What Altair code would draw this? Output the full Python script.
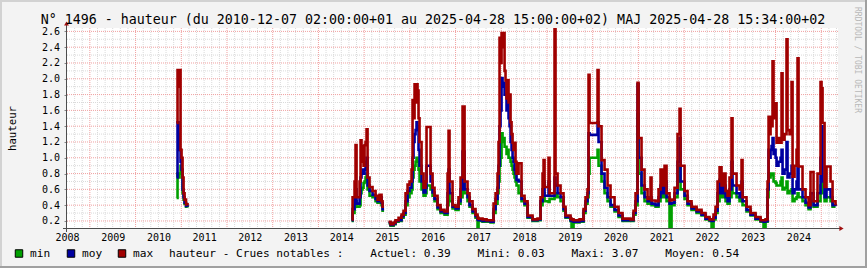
import altair as alt
import pandas as pd

# ---------------- data (decimal years; None marks a gap in the record) ----------------
years = [
    2010.897, 2010.918, 2010.940, 2010.962, 2010.984, 2011.006, 2011.028, 2011.050, 2011.072, 2011.104, 2011.137,
    None,
    2014.725, 2014.747, 2014.790, 2014.812, 2014.834, 2014.900,
    2014.922, 2014.943, 2014.965, 2014.987, 2015.009, 2015.031, 2015.053, 2015.075,
    2015.118, 2015.184, 2015.250, 2015.293, 2015.337, 2015.381, 2015.403, 2015.436,
    None,
    2015.534, 2015.578, 2015.643, 2015.687, 2015.753, 2015.818, 2015.862, 2015.906, 2015.950, 2015.993,
    2016.037, 2016.059, 2016.081, 2016.103, 2016.125, 2016.146, 2016.168, 2016.190, 2016.212,
    2016.256, 2016.300, 2016.343, 2016.365, 2016.453, 2016.497, 2016.540, 2016.606, 2016.672, 2016.759,
    2016.825, 2016.847, 2016.868, 2016.934, 2017.000, 2017.065, 2017.109, 2017.153, 2017.197, 2017.262,
    2017.306, 2017.372, 2017.437, 2017.481, 2017.503, 2017.590, 2017.678, 2017.765, 2017.831, 2017.875,
    2017.918, 2017.940, 2017.962, 2017.984, 2018.006, 2018.028, 2018.050, 2018.072, 2018.093, 2018.115, 2018.137,
    2018.159, 2018.181, 2018.203, 2018.225, 2018.247, 2018.268, 2018.290, 2018.312, 2018.334, 2018.378,
    2018.443, 2018.509, 2018.575, 2018.684, 2018.793, 2018.859, 2018.903, 2018.925, 2018.947, 2019.034,
    2019.056, 2019.165, 2019.187, 2019.231, 2019.297, 2019.362, 2019.406, 2019.515, 2019.537, 2019.581,
    2019.712, 2019.800, 2019.843, 2019.887, 2019.909, 2019.931, 2020.106, 2020.128, 2020.193, 2020.259,
    2020.325, 2020.390, 2020.478, 2020.565, 2020.653, 2020.828, 2020.893, 2020.937, 2020.981, 2021.003,
    2021.068, 2021.134, 2021.200, 2021.265, 2021.287, 2021.375, 2021.440, 2021.484, 2021.528, 2021.572,
    2021.615, 2021.681, 2021.725, 2021.790, 2021.856, 2021.900, 2021.922, 2022.009, 2022.075, 2022.162,
    2022.272, 2022.381, 2022.468, 2022.556, 2022.600, 2022.643, 2022.687, 2022.731, 2022.775, 2022.818,
    2022.862, 2022.906, 2022.950, 2022.993, 2023.037, 2023.059, 2023.147, 2023.212, 2023.256, 2023.278,
    2023.365, 2023.453, 2023.562, 2023.672, 2023.737, 2023.781,
    2023.825, 2023.847, 2023.869, 2023.891, 2023.912, 2023.934, 2023.956, 2023.978, 2024.000, 2024.022, 2024.065, 2024.109,
    2024.131, 2024.153, 2024.197, 2024.240, 2024.262, 2024.306, 2024.350, 2024.372, 2024.415, 2024.459, 2024.481, 2024.503,
    2024.590, 2024.656, 2024.722, 2024.765, 2024.831, 2024.918, 2024.984, 2025.006, 2025.028, 2025.072, 2025.115,
    2025.203, 2025.247, 2025.312,
]

h_max = [
    1.44, 2.11, 1.90, 2.11, 1.10, 1.00, 0.75, 0.55, 0.47, 0.41, 0.40,
    None,
    0.22, 0.50, 0.70, 1.16, 0.50, 0.70,
    1.22, 0.95, 1.15, 0.90, 1.16, 1.20, 1.36, 0.75,
    0.63, 0.58, 0.52, 0.47, 0.53, 0.45, 0.38, 0.38,
    None,
    0.19, 0.16, 0.18, 0.21, 0.24, 0.28, 0.33, 0.55, 0.66, 0.70,
    0.85, 1.73, 1.50, 1.93, 1.70, 1.93, 1.85, 1.50, 1.20,
    0.80, 0.62, 0.70, 1.39, 0.80, 0.62, 0.52, 0.40, 0.34, 0.32,
    0.80, 1.34, 0.70, 0.40, 0.38, 0.50, 0.75, 1.65, 0.70, 0.55,
    0.45, 0.35, 0.28, 0.24, 0.23, 0.22, 0.21, 0.21, 0.42, 0.55,
    0.80, 1.20, 2.52, 2.20, 2.58, 2.40, 2.58, 2.10, 1.98, 1.75, 1.98,
    1.70, 1.80, 1.45, 1.30, 1.19, 1.10, 1.19, 0.95, 0.80, 0.93,
    0.52, 0.45, 0.27, 0.22, 0.23, 0.50, 0.80, 0.97, 0.63, 1.00,
    0.55, 3.07, 0.80, 0.65, 0.55, 0.38, 0.27, 0.23, 0.22, 0.21,
    0.22, 0.35, 0.50, 0.60, 2.05, 1.44, 2.11, 1.40, 0.97, 0.85,
    0.65, 0.50, 0.38, 0.30, 0.23, 0.22, 0.33, 0.55, 1.95, 1.25,
    0.85, 0.60, 0.48, 0.75, 0.46, 0.45, 0.60, 0.85, 0.65, 0.90,
    0.55, 0.46, 0.47, 0.62, 1.30, 1.62, 0.90, 0.58, 0.45, 0.38,
    0.34, 0.30, 0.25, 0.22, 0.22, 0.28, 0.38, 0.70, 0.88, 0.65,
    0.80, 0.58, 0.52, 0.75, 1.50, 0.80, 0.65, 0.60, 0.97, 0.50,
    0.38, 0.30, 0.25, 0.21, 0.21, 0.22,
    0.70, 1.52, 1.30, 1.52, 1.40, 2.22, 1.69, 1.50, 1.69, 1.19, 1.25, 1.19,
    2.07, 1.23, 1.30, 2.50, 1.35, 1.30, 1.96, 0.76, 0.90, 1.10, 2.26, 0.89,
    0.60, 0.50, 0.40, 0.82, 0.45, 0.80, 1.96, 1.88, 1.44, 0.63, 0.89,
    0.70, 0.45, 0.40,
]

h_moy = [
    0.75, 1.45, 1.30, 1.10, 0.95, 0.85, 0.60, 0.50, 0.43, 0.39, 0.38,
    None,
    0.21, 0.35, 0.50, 0.60, 0.42, 0.50,
    0.75, 0.80, 0.85, 0.80, 0.85, 0.95, 1.00, 0.65,
    0.58, 0.53, 0.48, 0.45, 0.50, 0.43, 0.35, 0.35,
    None,
    0.18, 0.15, 0.17, 0.20, 0.21, 0.26, 0.30, 0.45, 0.58, 0.62,
    0.70, 1.00, 1.20, 1.30, 1.35, 1.45, 1.40, 1.10, 0.90,
    0.70, 0.56, 0.62, 0.90, 0.70, 0.56, 0.48, 0.37, 0.32, 0.30,
    0.55, 0.85, 0.55, 0.38, 0.36, 0.45, 0.60, 1.08, 0.60, 0.50,
    0.40, 0.32, 0.26, 0.22, 0.21, 0.20, 0.20, 0.19, 0.35, 0.48,
    0.62, 0.90, 1.40, 1.60, 2.01, 1.90, 1.95, 1.80, 1.80, 1.60, 1.70,
    1.50, 1.40, 1.20, 1.10, 1.00, 0.95, 0.85, 0.80, 0.72, 0.70,
    0.48, 0.42, 0.25, 0.21, 0.22, 0.45, 0.60, 0.70, 0.52, 0.70,
    0.52, 0.75, 0.65, 0.55, 0.50, 0.35, 0.25, 0.21, 0.20, 0.19,
    0.20, 0.33, 0.45, 0.55, 1.31, 1.29, 1.45, 1.20, 0.80, 0.62,
    0.50, 0.40, 0.34, 0.27, 0.21, 0.21, 0.30, 0.45, 1.93, 1.00,
    0.65, 0.50, 0.45, 0.50, 0.42, 0.40, 0.50, 0.65, 0.55, 0.70,
    0.50, 0.42, 0.43, 0.55, 0.95, 1.25, 0.70, 0.52, 0.42, 0.36,
    0.32, 0.28, 0.23, 0.21, 0.20, 0.24, 0.33, 0.55, 0.72, 0.55,
    0.65, 0.50, 0.45, 0.60, 0.95, 0.65, 0.55, 0.50, 0.70, 0.45,
    0.34, 0.28, 0.23, 0.20, 0.19, 0.20,
    0.60, 1.10, 1.00, 1.10, 1.15, 1.25, 1.05, 1.10, 1.00, 0.90, 0.95, 1.00,
    1.10, 0.80, 0.85, 1.20, 0.75, 0.80, 0.90, 0.55, 0.60, 0.70, 0.90, 0.60,
    0.50, 0.43, 0.37, 0.55, 0.40, 0.55, 1.00, 1.40, 0.70, 0.50, 0.60,
    0.50, 0.40, 0.39,
]

h_min = [
    0.49, 0.80, 0.75, 0.80, 0.90, 0.80, 0.55, 0.47, 0.42, 0.38, 0.37,
    None,
    0.20, 0.30, 0.40, 0.45, 0.38, 0.40,
    0.55, 0.60, 0.62, 0.68, 0.70, 0.75, 0.80, 0.60,
    0.52, 0.50, 0.45, 0.43, 0.47, 0.40, 0.33, 0.33,
    None,
    0.17, 0.14, 0.16, 0.19, 0.20, 0.24, 0.28, 0.40, 0.50, 0.55,
    0.60, 0.75, 0.85, 0.90, 0.95, 1.00, 0.95, 0.85, 0.70,
    0.60, 0.52, 0.55, 0.65, 0.60, 0.52, 0.45, 0.35, 0.30, 0.28,
    0.40, 0.60, 0.45, 0.36, 0.34, 0.42, 0.50, 0.72, 0.55, 0.45,
    0.38, 0.30, 0.24, 0.12, 0.20, 0.19, 0.19, 0.18, 0.30, 0.42,
    0.55, 0.70, 0.90, 1.00, 1.31, 1.20, 1.25, 1.14, 1.14, 1.05, 1.10,
    1.00, 1.00, 0.95, 0.90, 0.85, 0.80, 0.75, 0.70, 0.65, 0.55,
    0.45, 0.40, 0.24, 0.20, 0.21, 0.40, 0.50, 0.55, 0.45, 0.44,
    0.48, 0.50, 0.55, 0.50, 0.45, 0.33, 0.24, 0.20, 0.05, 0.18,
    0.19, 0.30, 0.42, 0.50, 0.80, 1.00, 1.10, 0.90, 0.70, 0.55,
    0.45, 0.38, 0.32, 0.25, 0.20, 0.20, 0.28, 0.40, 1.55, 0.80,
    0.55, 0.45, 0.42, 0.45, 0.40, 0.38, 0.45, 0.55, 0.50, 0.55,
    0.45, 0.03, 0.40, 0.50, 0.70, 0.90, 0.60, 0.48, 0.40, 0.34,
    0.30, 0.27, 0.22, 0.20, 0.08, 0.22, 0.30, 0.45, 0.60, 0.50,
    0.55, 0.45, 0.42, 0.50, 0.70, 0.55, 0.50, 0.45, 0.55, 0.40,
    0.32, 0.27, 0.22, 0.19, 0.08, 0.19,
    0.50, 0.80, 0.75, 0.80, 0.78, 0.80, 0.70, 0.70, 0.68, 0.65, 0.65, 0.70,
    0.75, 0.60, 0.62, 0.70, 0.55, 0.58, 0.60, 0.45, 0.48, 0.50, 0.55, 0.50,
    0.45, 0.40, 0.35, 0.45, 0.38, 0.45, 0.65, 0.70, 0.55, 0.45, 0.50,
    0.45, 0.38, 0.38,
]

series_names = ["min", "moy", "max"]
series_colors = ["#00a000", "#0000a0", "#a00000"]
y_ticks = [0.2, 0.4, 0.6, 0.8, 1.0, 1.2, 1.4, 1.6, 1.8, 2.0, 2.2, 2.4, 2.6]
label_years = list(range(2008, 2025))

title_text = ("N° 1496 - hauteur (du 2010-12-07 02:00:00+01 au 2025-04-28 15:00:00+02) "
              "MAJ 2025-04-28 15:34:00+02")
stat_label = "hauteur - Crues notables :"
stat_names = ["Actuel", "Mini", "Maxi", "Moyen"]
stat_values = [0.39, 0.03, 3.07, 0.54]
watermark = "RRDTOOL / TOBI OETIKER"

# ---------------- build table ----------------
rows = []
seg = 0
for t, a, b, c in zip(years, h_min, h_moy, h_max):
    if t is None:
        seg += 1
        continue
    rows.append({"t": t, "seg": seg, "min": a, "moy": b, "max": c})
df = pd.DataFrame(rows)

W, H = 771, 200
FONT = "DejaVu Sans Mono"
AXC = "#4d4d4d"
NB = "\u00a0"

xs = alt.Scale(domain=[2008.5, 2025.366], nice=False, zero=False)
ys = alt.Scale(domain=[0.111, 2.643], nice=False, zero=False)

xa = alt.Axis(values=[y + 0.5 for y in label_years], labelExpr="floor(datum.value)",
              title=None, ticks=False, tickSize=0, domain=False, grid=False,
              labelFont=FONT, labelFontSize=10, labelColor="black", labelPadding=9.5,
              labelBaseline="middle", labelFlush=False, labelBound=False, labelOverlap=False)
ya = alt.Axis(values=y_ticks, format=".1f", title="hauteur", ticks=True, tickSize=3,
              tickColor="#888888", domain=False, grid=False,
              labelFont=FONT, labelFontSize=10, labelColor="black", labelPadding=4.5,
              labelBaseline="middle", labelFlush=False, labelBound=False, labelOverlap=False,
              titleFont=FONT, titleFontSize=10.7, titleFontWeight="normal", titleColor="black",
              titleX=-52, titleY=100, titleAngle=270, titleBaseline="alphabetic",
              titleAlign="center")

# grid positions (axis furniture)
minor_x = [y + k / 6 for y in range(2008, 2026) for k in range(1, 6)
           if 2008.5 < y + k / 6 < 2025.366]
major_x = [y for y in range(2009, 2026)]
minor_y = [round(0.3 + 0.2 * i, 1) for i in range(12)]
major_y = y_ticks

one = pd.DataFrame({"k": [0]})

layers = [
    alt.Chart(pd.DataFrame({"t": minor_x})).mark_rule(color="#dadada", strokeDash=[1, 1], strokeWidth=1)
    .encode(x=alt.X("t:Q", scale=xs, axis=xa)),
    alt.Chart(pd.DataFrame({"v": minor_y})).mark_rule(color="#dadada", strokeDash=[1, 1], strokeWidth=1)
    .encode(y=alt.Y("v:Q", scale=ys, axis=ya)),
    alt.Chart(pd.DataFrame({"t": major_x})).mark_rule(color="#f0a0a0", strokeDash=[1, 1], strokeWidth=1)
    .encode(x=alt.X("t:Q", scale=xs, axis=xa)),
    alt.Chart(pd.DataFrame({"v": major_y})).mark_rule(color="#f0a0a0", strokeDash=[1, 1], strokeWidth=1)
    .encode(y=alt.Y("v:Q", scale=ys, axis=ya)),
]

for name, col in zip(series_names, series_colors):
    layers.append(
        alt.Chart(df).mark_line(interpolate="step-after", strokeWidth=2.6, clip=True,
                                color=col, strokeJoin="miter")
        .encode(x=alt.X("t:Q", scale=xs, axis=xa),
                y=alt.Y(f"{name}:Q", scale=ys, axis=ya),
                detail="seg:N")
    )

# axis lines and arrows
layers += [
    alt.Chart(one).mark_rule(color=AXC, strokeWidth=1)
    .encode(x=alt.value(-4), x2=alt.value(773), y=alt.value(200.5), y2=alt.value(200.5)),
    alt.Chart(one).mark_rule(color=AXC, strokeWidth=1)
    .encode(x=alt.value(-0.5), x2=alt.value(-0.5), y=alt.value(-4), y2=alt.value(204)),
    alt.Chart(one).mark_point(shape="triangle-up", filled=True, size=24, color="#a01010", opacity=1)
    .encode(x=alt.value(-0.5), y=alt.value(-4.5)),
    alt.Chart(one).mark_point(shape="triangle-right", filled=True, size=24, color="#a01010", opacity=1)
    .encode(x=alt.value(774.5), y=alt.value(200.5)),
]

# frame shading
layers += [
    alt.Chart(one).mark_rule(color="#d2d2d2", strokeWidth=2)
    .encode(x=alt.value(-67), x2=alt.value(800), y=alt.value(-27), y2=alt.value(-27)),
    alt.Chart(one).mark_rule(color="#d2d2d2", strokeWidth=2)
    .encode(x=alt.value(-66), x2=alt.value(-66), y=alt.value(-28), y2=alt.value(240)),
    alt.Chart(one).mark_rule(color="#a0a0a0", strokeWidth=2)
    .encode(x=alt.value(-67), x2=alt.value(800), y=alt.value(239), y2=alt.value(239)),
    alt.Chart(one).mark_rule(color="#a0a0a0", strokeWidth=2)
    .encode(x=alt.value(799), x2=alt.value(799), y=alt.value(-28), y2=alt.value(240)),
]

# title & watermark
layers += [
    alt.Chart(pd.DataFrame({"s": [title_text]})).mark_text(
        font=FONT, fontSize=13.3, color="black", align="center", baseline="alphabetic")
    .encode(text="s:N", x=alt.value(366), y=alt.value(-4)),
    alt.Chart(pd.DataFrame({"s": [watermark]})).mark_text(
        font=FONT, fontSize=8, color="#b8b8b8", align="left", baseline="middle", angle=90)
    .encode(text="s:N", x=alt.value(790), y=alt.value(-21)),
]

# legend
leg_x = [-48, 4, 55]
for name, col, lx in zip(series_names, series_colors, leg_x):
    layers.append(
        alt.Chart(pd.DataFrame({"s": [name]})).mark_square(
            size=56, filled=True, color=col, stroke="black", strokeWidth=1, opacity=1)
        .encode(x=alt.value(lx), y=alt.value(225.5))
    )
    layers.append(
        alt.Chart(pd.DataFrame({"s": [name]})).mark_text(
            font=FONT, fontSize=11.15, color="black", align="left", baseline="middle")
        .encode(text="s:N", x=alt.value(lx + 11), y=alt.value(225.5))
    )

stat_parts = [stat_label] + [f"{n}: {v:.2f}" for n, v in zip(stat_names, stat_values)]
stat_text = (NB * 4).join(stat_parts)
layers.append(
    alt.Chart(pd.DataFrame({"s": [stat_text]})).mark_text(
        font=FONT, fontSize=11.15, color="black", align="left", baseline="middle")
    .encode(text="s:N", x=alt.value(102), y=alt.value(225.5))
)

chart = (
    alt.layer(*layers)
    .properties(width=W, height=H,
                padding={"left": 67, "top": 28, "right": 29, "bottom": 40},
                autosize=alt.AutoSizeParams(type="none"),
                background="#f3f3f3")
    .configure_view(stroke=None, fill="white")
)

chart.save("out.html", embed_options={"renderer": "svg", "actions": False})
